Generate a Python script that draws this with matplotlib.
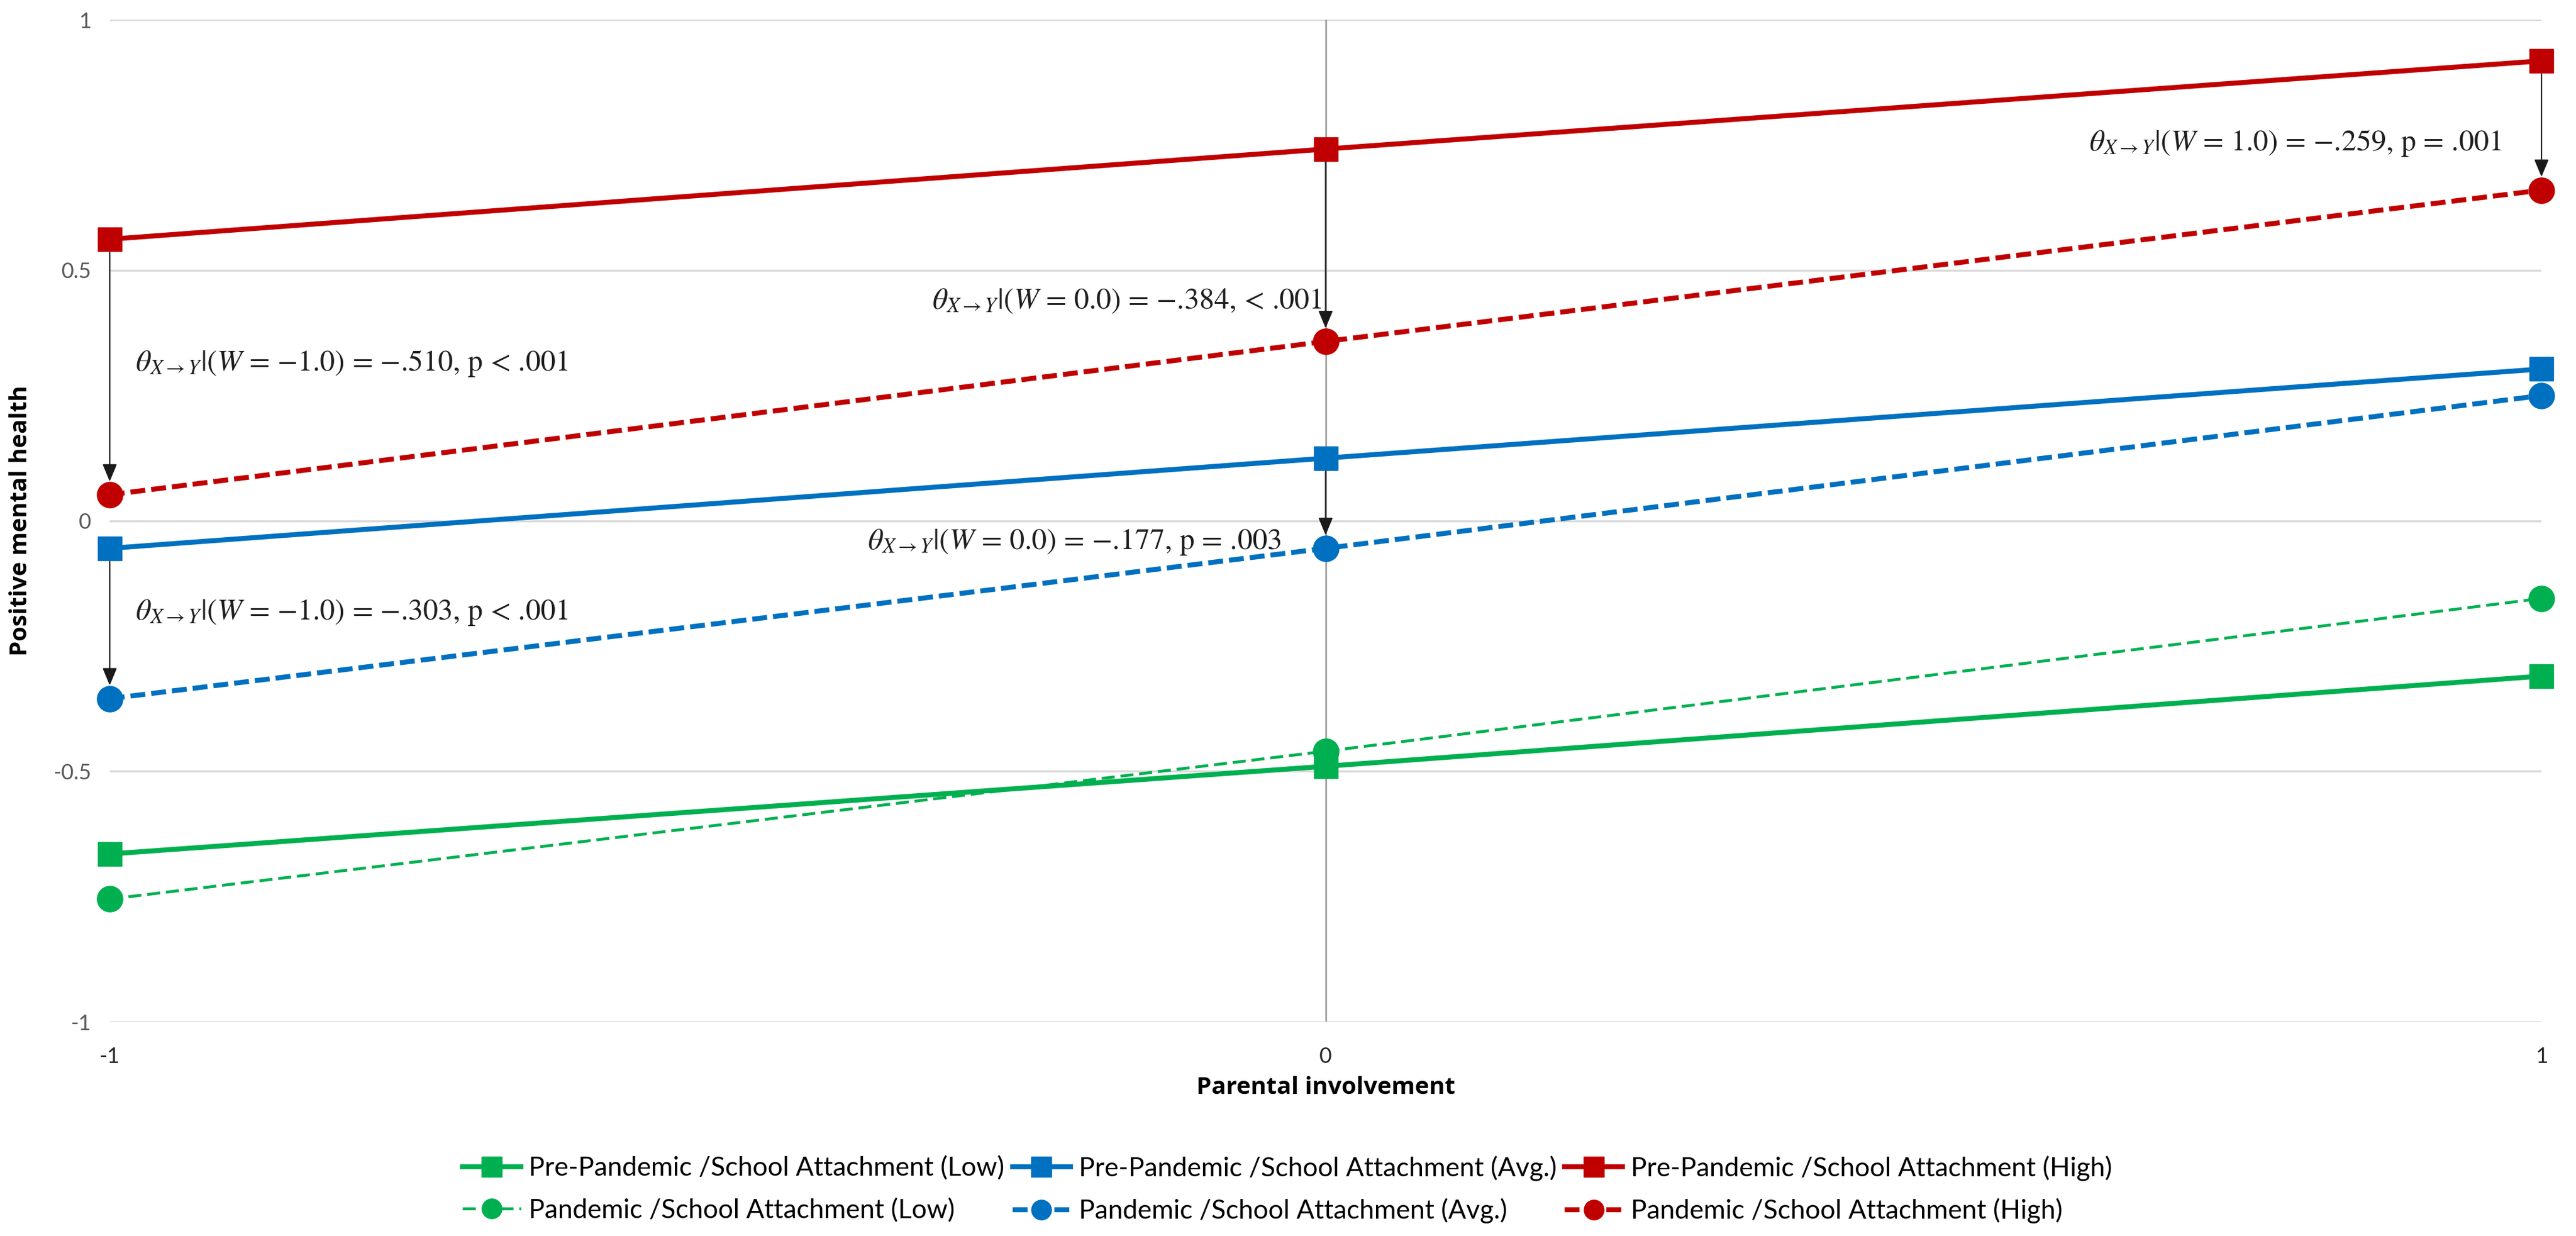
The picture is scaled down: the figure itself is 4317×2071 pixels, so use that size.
import matplotlib
matplotlib.use("Agg")
import matplotlib.pyplot as plt
from matplotlib.lines import Line2D

# 데이터
parental = [-1, 0, 1]

pre_low = [-0.665, -0.49, -0.31]
pre_avg = [-0.055, 0.125, 0.303]
pre_high = [0.562, 0.742, 0.918]

pan_low = [-0.755, -0.46, -0.155]
pan_avg = [-0.355, -0.055, 0.25]
pan_high = [0.052, 0.358, 0.66]

labels_pre = ["Pre-Pandemic /School Attachment (Low)",
              "Pre-Pandemic /School Attachment (Avg.)",
              "Pre-Pandemic /School Attachment (High)"]
labels_pan = ["Pandemic /School Attachment (Low)",
              "Pandemic /School Attachment (Avg.)",
              "Pandemic /School Attachment (High)"]

yticks = [-1, -0.5, 0, 0.5, 1]
ytick_labels = ["-1", "-0.5", "0", "0.5", "1"]
xtick_labels = ["-1", "0", "1"]

# 주석: (x, 시작 y, 끝 y, 글자 x, 글자 y, 정렬, 문구)
th = r"$\theta_{X\rightarrow Y}$|($W$"
notes = [
    (-1, pre_high[0], pan_high[0], -0.979, 0.314, "left",
     th + " = \u22121.0) = \u2212.510, p < .001"),
    (0, pre_high[1], pan_high[1], -0.003, 0.438, "right",
     th + " = 0.0) = \u2212.384, < .001"),
    (1, pre_high[2], pan_high[2], 0.967, 0.753, "right",
     th + " = 1.0) = \u2212.259, p = .001"),
    (0, pre_avg[1], pan_avg[1], -0.037, -0.043, "right",
     th + " = 0.0) = \u2212.177, p = .003"),
    (-1, pre_avg[0], pan_avg[0], -0.979, -0.183, "left",
     th + " = \u22121.0) = \u2212.303, p < .001"),
]

red = "#C00000"
blue = "#0070C0"
green = "#00B050"

plt.rcParams["mathtext.fontset"] = "stix"

fig = plt.figure(figsize=(43.17, 20.71), dpi=100)
ax = fig.add_axes([0.0426, 0.1733, 0.944, 0.8107])

# 세로 기준선 (x = 0)
ax.axvline(0, color="#A6A6A6", lw=2.2, zorder=1)

ms_sq = 29
ms_ci = 31

ax.plot(parental, pre_low, color=green, lw=6, marker="s", ms=ms_sq, clip_on=False, zorder=3)
ax.plot(parental, pre_avg, color=blue, lw=6, marker="s", ms=ms_sq, clip_on=False, zorder=3)
ax.plot(parental, pre_high, color=red, lw=6, marker="s", ms=ms_sq, clip_on=False, zorder=3)

ax.plot(parental, pan_low, color=green, lw=3.5, ls=(0, (4.5, 2)), marker="o", ms=ms_ci, clip_on=False, zorder=3)
ax.plot(parental, pan_avg, color=blue, lw=6, ls=(0, (3, 1.2)), marker="o", ms=ms_ci, clip_on=False, zorder=3)
ax.plot(parental, pan_high, color=red, lw=6, ls=(0, (3, 1.2)), marker="o", ms=ms_ci, clip_on=False, zorder=3)

# 화살표와 글자
for x, y0, y1, tx, ty, ha, txt in notes:
    ax.annotate("", xy=(x, y1), xytext=(x, y0),
                arrowprops=dict(arrowstyle="-|>,head_length=1.8,head_width=0.75",
                                color="#1a1a1a", lw=1.6, shrinkA=16, shrinkB=16),
                zorder=4, annotation_clip=False)
    ax.text(tx, ty, txt, ha=ha, va="center", fontsize=36, color="#1f1f1f",
            family="STIXGeneral", zorder=5)

ax.set_xlim(-1, 1)
ax.set_ylim(-1, 1)
ax.set_xticks(parental)
ax.set_xticklabels(xtick_labels, fontsize=26, color="#262626", family="Lato")
ax.set_yticks(yticks)
ax.set_yticklabels(ytick_labels, fontsize=26, color="#595959", family="Lato")
ax.tick_params(length=0, pad=22)
ax.tick_params(axis="x", pad=30)
ax.grid(axis="y", color="#D9D9D9", lw=2.5)
ax.set_axisbelow(True)
for s in ax.spines.values():
    s.set_visible(False)

ax.set_xlabel("Parental involvement", fontsize=29, fontweight="bold", family="Open Sans", va="center")
ax.set_ylabel("Positive mental health", fontsize=29, fontweight="bold", family="Open Sans", va="center")
ax.xaxis.set_label_coords(0.5, -0.066)
ax.yaxis.set_label_coords(-0.0366, 0.5)

# 범례
handles = []
lbls = []
for c, lp, lq, lw_pan, dash in zip([green, blue, red], labels_pre, labels_pan,
                                   [3.5, 6, 6], [(4.5, 2), (3, 1.2), (3, 1.2)]):
    handles.append(Line2D([0], [0], color=c, lw=6, marker="s", ms=24))
    lbls.append(lp)
    handles.append(Line2D([0], [0], color=c, lw=lw_pan, ls=(0, dash), marker="o", ms=24))
    lbls.append(lq)
fig.legend(handles, lbls, ncol=3, loc="center", bbox_to_anchor=(0.4997, 0.0375),
           frameon=False, prop={"family": "Lato", "size": 32},
           handlelength=2.2, handletextpad=0.3, columnspacing=0.3, labelspacing=0.65)

fig.savefig("out.png", dpi=100)
